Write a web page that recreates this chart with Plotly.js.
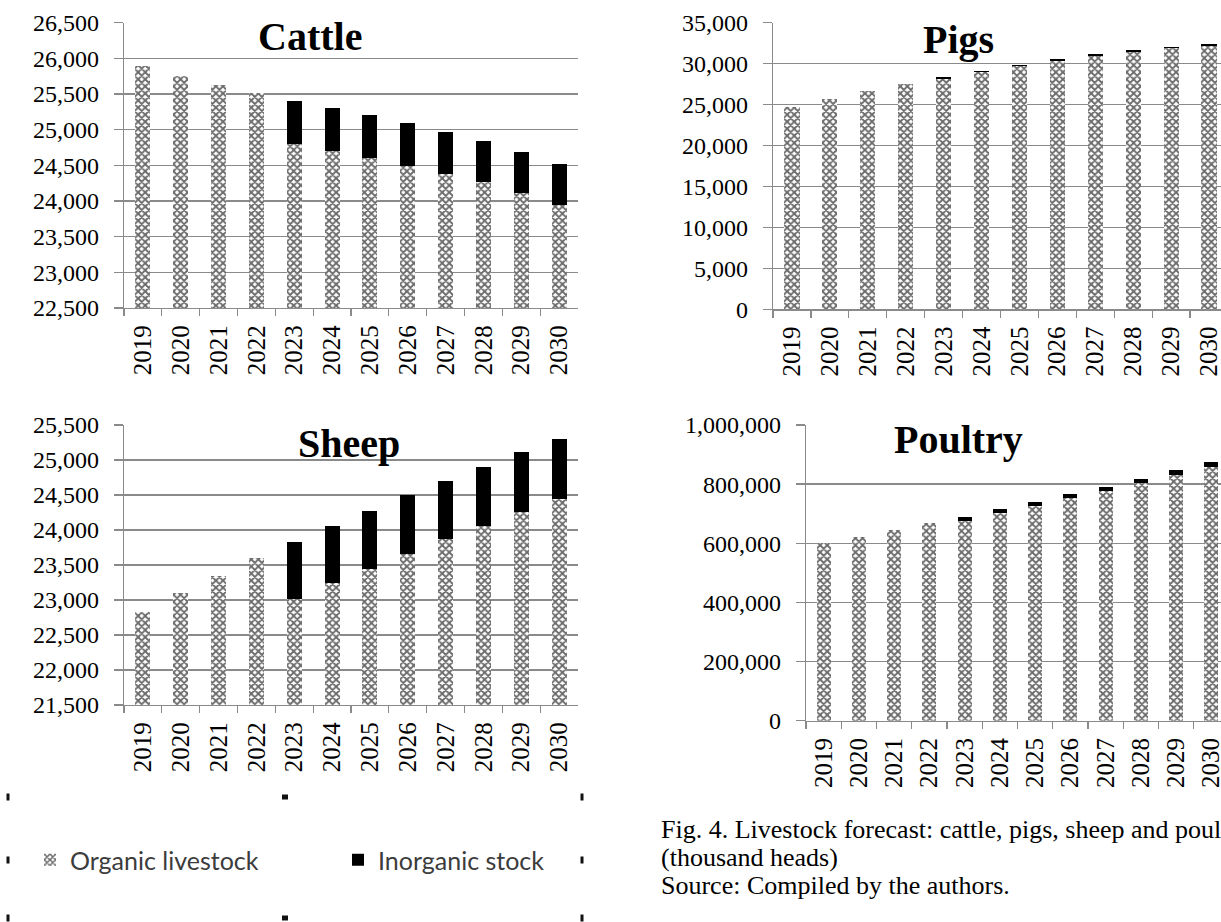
<!DOCTYPE html>
<html>
<head>
<meta charset="utf-8">
<script src="https://cdn.plot.ly/plotly-3.0.1.min.js"></script>
<style>
html,body{margin:0;padding:0;overflow:hidden;background:#ffffff;}
#chart{width:1240px;height:922px;}
</style>
</head>
<body>
<div id="chart"></div>
<script>
// ---- data (thousand heads) ----
const years = ['2019','2020','2021','2022','2023','2024','2025','2026','2027','2028','2029','2030'];
const cattleOrganic   = [25900, 25750, 25630, 25510, 24800, 24700, 24600, 24490, 24380, 24260, 24110, 23940];
const cattleInorganic = [0, 0, 0, 0, 600, 600, 600, 600, 585, 580, 580, 575];
const pigsOrganic     = [24700, 25650, 26600, 27500, 28150, 28950, 29700, 30350, 30950, 31450, 31850, 32150];
const pigsInorganic   = [0, 0, 0, 0, 180, 180, 180, 180, 190, 190, 190, 200];
const sheepOrganic    = [22830, 23100, 23350, 23600, 23010, 23240, 23450, 23660, 23870, 24060, 24260, 24450];
const sheepInorganic  = [0, 0, 0, 0, 815, 820, 825, 835, 835, 845, 850, 850];
const poultryOrganic  = [600000, 622000, 645000, 667000, 676000, 702000, 726000, 752000, 777000, 804000, 831000, 859000];
const poultryInorganic= [0, 0, 0, 0, 14000, 14000, 14000, 14500, 15000, 15000, 15500, 16000];
const seriesNames = ['Organic livestock', 'Inorganic stock'];
const panelTitles = ['Cattle', 'Pigs', 'Sheep', 'Poultry'];
const captionLines = ['Fig. 4. Livestock forecast: cattle, pigs, sheep and poultry', '(thousand heads)', 'Source: Compiled by the authors.'];

// ---- layout helpers ----
const W = 1240, H = 922;
const fx = v => v / W;
const fy = v => 1 - v / H;
const SERIF = 'Liberation Serif, Times New Roman, serif';
const GRID = '#8a8a8a';

const organicMarker = {
  color: '#ffffff',
  line: {width: 0},
  pattern: {shape: 'x', fgcolor: '#6a6a6a', bgcolor: '#ffffff', size: 5, solidity: 0.6, fillmode: 'replace'}
};
const inorganicMarker = {color: '#000000', line: {width: 0}};

const panels = [
  {org: cattleOrganic, inorg: cattleInorganic, xa: 'x', ya: 'y'},
  {org: pigsOrganic, inorg: pigsInorganic, xa: 'x2', ya: 'y2'},
  {org: sheepOrganic, inorg: sheepInorganic, xa: 'x3', ya: 'y3'},
  {org: poultryOrganic, inorg: poultryInorganic, xa: 'x4', ya: 'y4'}
];

const data = [];
panels.forEach((p, i) => {
  data.push({type: 'bar', x: years, y: p.org, name: seriesNames[0], xaxis: p.xa, yaxis: p.ya,
             marker: organicMarker, showlegend: i === 0, legendgroup: 'org', hoverinfo: 'x+y'});
  data.push({type: 'bar', x: years, y: p.inorg, name: seriesNames[1], xaxis: p.xa, yaxis: p.ya,
             marker: inorganicMarker, showlegend: i === 0, legendgroup: 'inorg', hoverinfo: 'x+y'});
});

function xAxis(d0, d1, anchor) {
  return {
    domain: [fx(d0), fx(d1)], anchor: anchor, type: 'category', range: [-0.5, 11.5],
    showline: true, linecolor: GRID, linewidth: 1.3,
    ticks: 'outside', tickson: 'boundaries', ticklen: 7, tickcolor: GRID, tickwidth: 1.3,
    tickangle: -90, tickfont: {family: SERIF, size: 25, color: '#000'},
    showgrid: false, zeroline: false, ticklabelstandoff: 6, fixedrange: true
  };
}
function yAxis(top, bottom, anchor, range, dtick) {
  return {
    domain: [fy(bottom), fy(top)], anchor: anchor, range: range, dtick: dtick, tick0: 0,
    showgrid: true, gridcolor: GRID, gridwidth: 1.3, zeroline: false,
    showline: true, linecolor: GRID, linewidth: 1.3,
    ticks: 'outside', ticklen: 9, tickcolor: GRID, tickwidth: 1.3,
    tickfont: {family: SERIF, size: 24, color: '#000'}, tickformat: ',d',
    ticklabelstandoff: 10, fixedrange: true
  };
}

const annotations = [
  {text: '<b>' + panelTitles[0] + '</b>', x: fx(310), y: fy(37)},
  {text: '<b>' + panelTitles[1] + '</b>', x: fx(958), y: fy(39)},
  {text: '<b>' + panelTitles[2] + '</b>', x: fx(349), y: fy(443)},
  {text: '<b>' + panelTitles[3] + '</b>', x: fx(958), y: fy(440)}
].map(a => Object.assign(a, {xref: 'paper', yref: 'paper', xanchor: 'center', yanchor: 'middle',
  showarrow: false, font: {family: SERIF, size: 40, color: '#000'}}));

const captionY = [829, 857, 885];
captionLines.forEach((t, i) => annotations.push({
  text: t, xref: 'paper', yref: 'paper', x: fx(659), y: fy(captionY[i]),
  xanchor: 'left', yanchor: 'middle', align: 'left', showarrow: false,
  font: {family: SERIF, size: 26, color: '#000'}
}));

// selection handles around the legend box
const handles = [[8,797,3,7],[285,797,6,5],[582,797,3,7],[8,860,3,7],[582,860,3,7],[8,918,3,7],[285,918,6,5],[582,918,3,7]];
const shapes = handles.map(h => ({type: 'rect', xref: 'paper', yref: 'paper',
  x0: fx(h[0] - h[2] / 2), x1: fx(h[0] + h[2] / 2), y0: fy(h[1] + h[3] / 2), y1: fy(h[1] - h[3] / 2),
  fillcolor: '#111', line: {width: 0}}));

const layout = {
  width: W, height: H,
  margin: {l: 0, r: 0, t: 0, b: 0, pad: 0},
  paper_bgcolor: '#ffffff', plot_bgcolor: '#ffffff',
  barmode: 'stack', bargap: 0.6,
  xaxis: xAxis(124, 578, 'y'),
  yaxis: yAxis(22.7, 308, 'x', [22500, 26500], 500),
  xaxis2: xAxis(773, 1228, 'y2'),
  yaxis2: yAxis(22.7, 309.3, 'x2', [0, 35000], 5000),
  xaxis3: xAxis(124, 578, 'y3'),
  yaxis3: yAxis(425, 705, 'x3', [21500, 25500], 500),
  xaxis4: xAxis(806, 1229, 'y4'),
  yaxis4: yAxis(425, 720.7, 'x4', [0, 1000000], 200000),
  showlegend: true,
  legend: {orientation: 'h', x: fx(30), xanchor: 'left', y: fy(860), yanchor: 'middle',
           font: {family: 'Lato, Open Sans, sans-serif', size: 25, color: '#3c3c3c'},
           traceorder: 'normal', entrywidth: 263, itemwidth: 30, bgcolor: 'rgba(0,0,0,0)'},
  annotations: annotations,
  shapes: shapes
};

Plotly.newPlot('chart', data, layout, {displayModeBar: false, staticPlot: true});
</script>
</body>
</html>
